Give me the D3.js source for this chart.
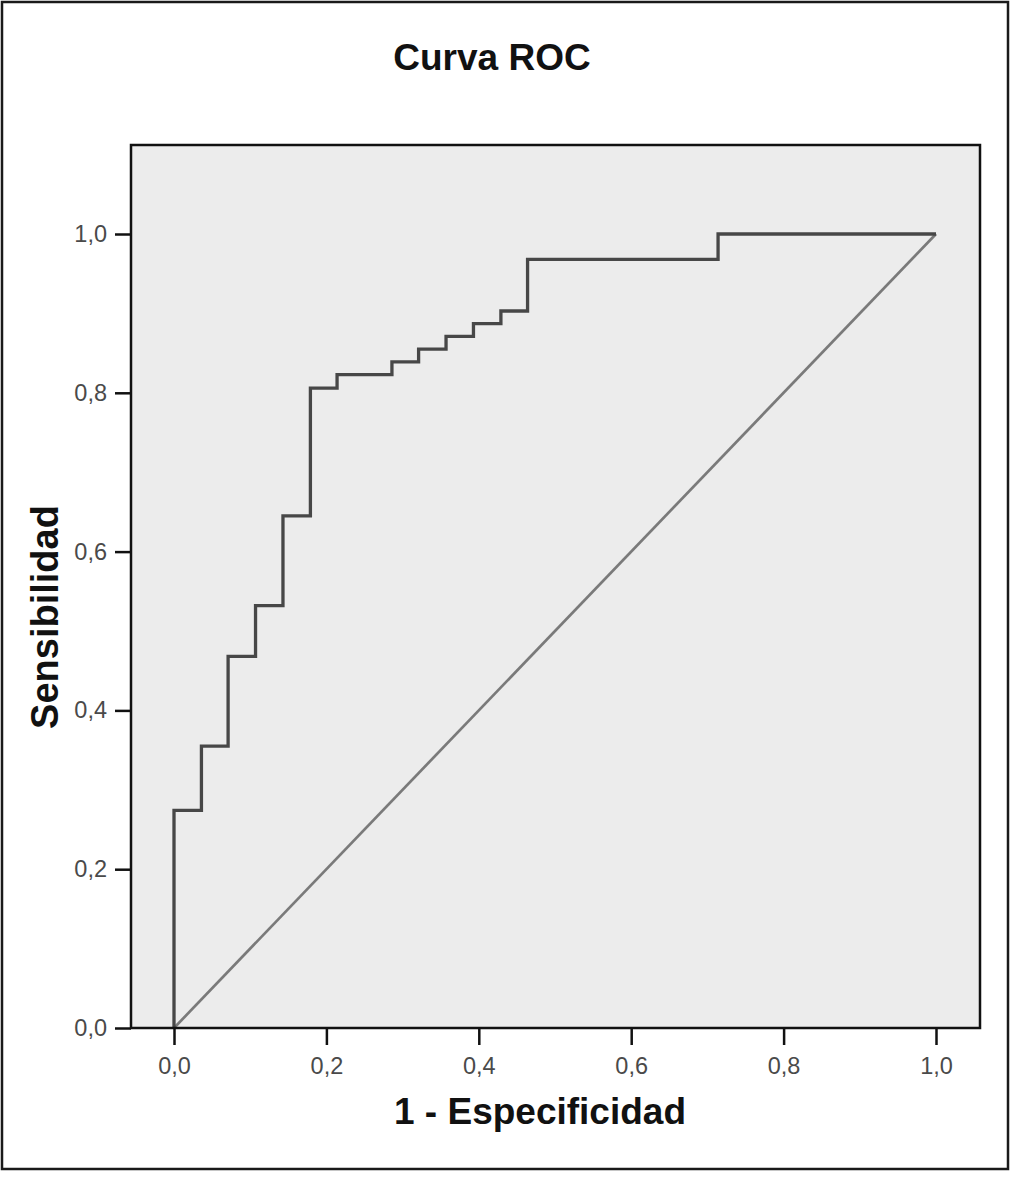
<!DOCTYPE html>
<html>
<head>
<meta charset="utf-8">
<script src="https://cdn.jsdelivr.net/npm/d3@7"></script>
<style>
  html, body { margin: 0; padding: 0; background: #fff; }
  svg { display: block; }
</style>
</head>
<body>
<svg id="chart" width="1010" height="1177"></svg>
<script>
// Data (1 - specificity, sensitivity)
const fpr = [0, 0, 0.036, 0.036, 0.071, 0.071, 0.107, 0.107, 0.143, 0.143, 0.179, 0.179, 0.214, 0.214, 0.286, 0.286, 0.321, 0.321, 0.357, 0.357, 0.393, 0.393, 0.429, 0.429, 0.464, 0.464, 0.714, 0.714, 1.0];
const tpr = [0, 0.274, 0.274, 0.355, 0.355, 0.468, 0.468, 0.532, 0.532, 0.645, 0.645, 0.806, 0.806, 0.823, 0.823, 0.839, 0.839, 0.855, 0.855, 0.871, 0.871, 0.887, 0.887, 0.903, 0.903, 0.968, 0.968, 1.0, 1.0];
const refX = [0, 1];
const refY = [0, 1];
const tickValues = [0, 0.2, 0.4, 0.6, 0.8, 1.0];
const titleText = "Curva ROC";
const xTitle = "1 - Especificidad";
const yTitle = "Sensibilidad";

const svg = d3.select("#chart");
const locale = d3.formatLocale({decimal: ",", thousands: ".", grouping: [3], currency: ["", "€"]});
const fmt = locale.format(".1f");
const FONT = "'Liberation Sans', Arial, sans-serif";

// outer frame
svg.append("rect").attr("x", 2).attr("y", 2).attr("width", 1006).attr("height", 1167)
  .attr("fill", "#fff").attr("stroke", "#1a1a1a").attr("stroke-width", 2.5);

const box = {left: 131, top: 145, right: 980, bottom: 1028};
const x = d3.scaleLinear().domain([0, 1]).range([174, 936]);
const y = d3.scaleLinear().domain([0, 1]).range([1028, 234]);

// plot background
svg.append("rect").attr("x", box.left).attr("y", box.top)
  .attr("width", box.right - box.left).attr("height", box.bottom - box.top)
  .attr("fill", "#ececec");

// reference diagonal
const line = d3.line().x(d => x(d[0])).y(d => y(d[1]));
svg.append("path").datum(d3.zip(refX, refY)).attr("d", line)
  .attr("fill", "none").attr("stroke", "#7a7a7a").attr("stroke-width", 2.7);

// ROC curve
svg.append("path").datum(d3.zip(fpr, tpr)).attr("d", line)
  .attr("fill", "none").attr("stroke", "#474747").attr("stroke-width", 3.3)
  .attr("stroke-linejoin", "miter");

// plot border
svg.append("rect").attr("x", box.left).attr("y", box.top)
  .attr("width", box.right - box.left).attr("height", box.bottom - box.top)
  .attr("fill", "none").attr("stroke", "#111").attr("stroke-width", 2.5);

// axes
const xAxis = d3.axisBottom(x).tickValues(tickValues).tickFormat(fmt).tickSize(17).tickPadding(12);
const gx = svg.append("g").attr("transform", `translate(0,${box.bottom})`).call(xAxis);
const yAxis = d3.axisLeft(y).tickValues(tickValues).tickFormat(fmt).tickSize(16).tickPadding(8);
const gy = svg.append("g").attr("transform", `translate(${box.left},0)`).call(yAxis);
[gx, gy].forEach(g => {
  g.select(".domain").remove();
  g.selectAll(".tick line").attr("stroke", "#111").attr("stroke-width", 2.5);
  g.selectAll(".tick text").attr("fill", "#4a4a4a")
    .style("font-family", FONT).style("font-size", "23.5px");
});

// titles
svg.append("text").attr("x", 492).attr("y", 70).attr("text-anchor", "middle")
  .style("font-family", FONT).style("font-weight", "bold")
  .style("font-size", "37px").attr("fill", "#111").text(titleText);
svg.append("text").attr("x", 540).attr("y", 1124).attr("text-anchor", "middle")
  .style("font-family", FONT).style("font-weight", "bold")
  .style("font-size", "37px").attr("fill", "#111").text(xTitle);
svg.append("text").attr("transform", "translate(58,617) rotate(-90)").attr("text-anchor", "middle")
  .style("font-family", FONT).style("font-weight", "bold")
  .style("font-size", "38px").attr("fill", "#111").text(yTitle);
</script>
</body>
</html>
